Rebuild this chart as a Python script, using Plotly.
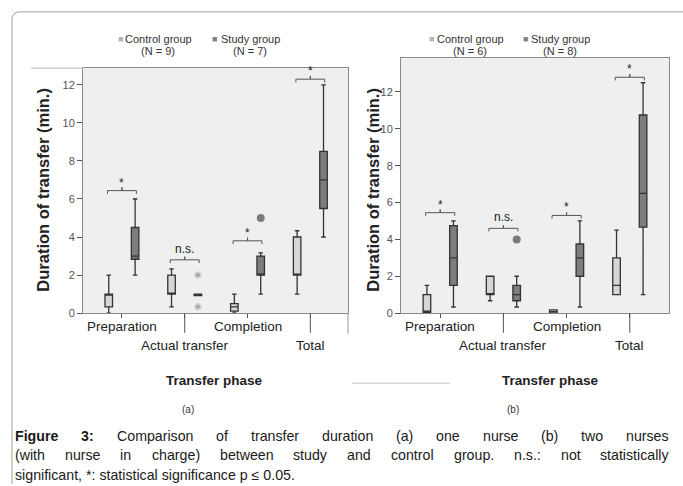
import plotly.graph_objects as go

W, H = 683, 486

categories = ["Preparation", "Actual transfer", "Completion", "Total"]
label_row = [0, 1, 0, 1]          # staggered label rows
groups = ["Control group", "Study group"]

# ---------- Panel (a): one nurse ----------
a_n = [9, 7]
a_ctrl_min = [0.0, 0.33, 0.0, 1.0]
a_ctrl_q1 = [0.33, 1.0, 0.1, 2.0]
a_ctrl_med = [1.0, 1.0, 0.33, 2.0]
a_ctrl_q3 = [1.0, 2.0, 0.5, 4.0]
a_ctrl_max = [2.0, 2.33, 1.0, 4.33]
a_study_min = [2.0, 0.92, 1.0, 4.0]
a_study_q1 = [2.83, 0.92, 2.0, 5.5]
a_study_med = [3.0, 1.0, 2.0, 7.0]
a_study_q3 = [4.5, 1.0, 3.0, 8.5]
a_study_max = [6.0, 1.0, 3.17, 12.0]
a_extreme_cat = [1, 1]
a_extreme_val = [2.0, 0.33]
a_outlier_cat = [2]
a_outlier_val = [5.0]
a_sig_y = [6.44, 2.8, 3.8, 12.3]
a_sig_label = ["*", "n.s.", "*", "*"]

# ---------- Panel (b): two nurses ----------
b_n = [6, 8]
b_ctrl_min = [0.0, 0.67, 0.0, 1.0]
b_ctrl_q1 = [0.02, 1.0, 0.0, 1.0]
b_ctrl_med = [0.1, 1.0, 0.08, 1.5]
b_ctrl_q3 = [1.0, 2.0, 0.17, 3.0]
b_ctrl_max = [1.5, 2.0, 0.17, 4.5]
b_study_min = [0.33, 0.33, 0.33, 1.0]
b_study_q1 = [1.5, 0.67, 2.0, 4.67]
b_study_med = [3.0, 1.0, 3.0, 6.5]
b_study_q3 = [4.75, 1.5, 3.75, 10.75]
b_study_max = [5.0, 2.0, 5.0, 12.5]
b_extreme_cat = []
b_extreme_val = []
b_outlier_cat = [1]
b_outlier_val = [4.0]
b_sig_y = [5.45, 4.6, 5.3, 12.8]
b_sig_label = ["*", "n.s.", "*", "*"]

y_ticks = [0, 2, 4, 6, 8, 10, 12]

caption_lines = [
    ["<b>Figure</b>", "<b>3:</b>", "Comparison", "of", "transfer", "duration", "(a)", "one",
     "nurse", "(b)", "two", "nurses"],
    ["(with", "nurse", "in", "charge)", "between", "study", "and", "control", "group.",
     "n.s.:", "not", "statistically"],
]
caption_last = "significant, *: statistical significance p \u2264 0.05."

CTRL_FILL = "#d6d6d6"
STUDY_FILL = "#7d7d7d"
FONT = "Liberation Sans, Arial, sans-serif"
OFF = 0.21


def px(x):
    return x / W


def py(y):
    return 1 - y / H


def ann(**kw):
    kw.setdefault("xanchor", "center")
    kw.setdefault("yanchor", "middle")
    kw.setdefault("showarrow", False)
    return kw


fig = go.Figure()

panels = [
    dict(xa="x", ya="y", xdom=(83, 348), ydom=(317, 69), yr=12.88,
         ctrl=(a_ctrl_min, a_ctrl_q1, a_ctrl_med, a_ctrl_q3, a_ctrl_max),
         study=(a_study_min, a_study_q1, a_study_med, a_study_q3, a_study_max),
         ext=(a_extreme_cat, a_extreme_val), out=(a_outlier_cat, a_outlier_val),
         sig=(a_sig_y, a_sig_label), n=a_n, letter="(a)",
         ytitle_x=43, leg=(120, 158, 214, 250), xr=(-0.62, 3.6),
         tp_x=214, let_x=188),
    dict(xa="x2", ya="y2", xdom=(401, 669), ydom=(317, 59), yr=13.83,
         ctrl=(b_ctrl_min, b_ctrl_q1, b_ctrl_med, b_ctrl_q3, b_ctrl_max),
         study=(b_study_min, b_study_q1, b_study_med, b_study_q3, b_study_max),
         ext=(b_extreme_cat, b_extreme_val), out=(b_outlier_cat, b_outlier_val),
         sig=(b_sig_y, b_sig_label), n=b_n, letter="(b)",
         ytitle_x=373, leg=(431, 470, 525, 560), xr=(-0.62, 3.62),
         tp_x=550, let_x=513),
]

annotations = []
shapes = []

for p in panels:
    xs = list(range(len(categories)))
    for stats, off, fill in [(p["ctrl"], -OFF, CTRL_FILL), (p["study"], OFF, STUDY_FILL)]:
        mn, q1, med, q3, mx = stats
        fig.add_trace(go.Box(
            x=[i + off for i in xs], q1=q1, median=med, q3=q3,
            lowerfence=mn, upperfence=mx, width=0.12, whiskerwidth=0.6,
            fillcolor=fill, line=dict(color="#333333", width=1.3),
            boxpoints=False, xaxis=p["xa"], yaxis=p["ya"], showlegend=False,
            hoverinfo="skip"))
    ec, ev = p["ext"]
    if ec:
        fig.add_trace(go.Scatter(
            x=[c + OFF for c in ec], y=ev, mode="markers",
            marker=dict(symbol="asterisk-open", size=6, color="#9a9a9a",
                        line=dict(color="#9a9a9a", width=1)),
            xaxis=p["xa"], yaxis=p["ya"], showlegend=False, hoverinfo="skip"))
    oc, ov = p["out"]
    if oc:
        fig.add_trace(go.Scatter(
            x=[c + OFF for c in oc], y=ov, mode="markers",
            marker=dict(symbol="circle", size=8, color="#7a7a7a"),
            xaxis=p["xa"], yaxis=p["ya"], showlegend=False, hoverinfo="skip"))
    # significance brackets
    sy, sl = p["sig"]
    d = 0.17
    bx, by = [], []
    for i, (yv, lab) in enumerate(zip(sy, sl)):
        x0, x1 = i - OFF - 0.02, i + OFF + 0.02
        bx += [x0, x0, i, i, i, x1, x1, None]
        by += [yv - d, yv, yv, yv + d, yv, yv, yv - d, None]
        annotations.append(ann(
            x=i, y=yv, xref=p["xa"], yref=p["ya"], text=lab,
            yanchor="bottom", yshift=2 if lab != "*" else -1,
            font=dict(size=12, color="#222", family=FONT)))
    fig.add_trace(go.Scatter(
        x=bx, y=by, mode="lines", line=dict(color="#555", width=1),
        xaxis=p["xa"], yaxis=p["ya"], showlegend=False, hoverinfo="skip"))

    # category labels (staggered)
    for i, (cat, row) in enumerate(zip(categories, label_row)):
        annotations.append(ann(
            x=i, y=py(331 + 19 * row), xref=p["xa"], yref="paper", text=cat,
            font=dict(size=13.5, color="#222", family=FONT)))
        if row == 1:
            shapes.append(dict(type="line", xref=p["xa"], yref="paper",
                               x0=i, x1=i, y0=py(317), y1=py(337),
                               line=dict(color="#555", width=1)))
    annotations.append(ann(
        x=px(p["tp_x"]), y=py(385), xref="paper", yref="paper",
        text="<b>Transfer phase</b>",
        font=dict(size=13.5, color="#222", family=FONT)))
    annotations.append(ann(
        x=px(p["let_x"]), y=py(415), xref="paper", yref="paper", text=p["letter"],
        font=dict(size=10, color="#333", family=FONT)))
    # y title
    annotations.append(ann(
        x=px(p["ytitle_x"]), y=py(192), xref="paper", yref="paper",
        text="<b>Duration of transfer (min.)</b>", textangle=-90,
        font=dict(size=16.5, color="#222", family=FONT)))
    # legend
    sq1, t1, sq2, t2 = p["leg"]
    for sqx, tx, g, n, col in [(sq1, t1, groups[0], p["n"][0], "#b5b5b5"),
                               (sq2, t2, groups[1], p["n"][1], "#808080")]:
        annotations.append(ann(
            x=px(sqx), y=py(39), xref="paper", yref="paper", text="\u25a0",
            font=dict(size=9, color=col, family=FONT)))
        annotations.append(ann(
            x=px(tx), y=py(39), xref="paper", yref="paper", text=g,
            font=dict(size=11, color="#333", family=FONT)))
        annotations.append(ann(
            x=px(tx), y=py(52), xref="paper", yref="paper", text=f"(N = {n})",
            font=dict(size=11, color="#333", family=FONT)))

# axes
axis_common = dict(showline=True, mirror=True, linecolor="#8a8a8a", linewidth=1,
                   showgrid=False, zeroline=False)
layout_axes = {}
for k, p in enumerate(panels):
    sfx = "" if k == 0 else "2"
    layout_axes["xaxis" + sfx] = dict(
        domain=[px(p["xdom"][0]), px(p["xdom"][1])], range=list(p["xr"]),
        tickvals=list(range(len(categories))), ticks="outside", ticklen=4,
        tickcolor="#555", showticklabels=False, anchor="y" + sfx, **axis_common)
    layout_axes["yaxis" + sfx] = dict(
        domain=[py(p["ydom"][0]), py(p["ydom"][1])], range=[0, p["yr"]],
        tickvals=y_ticks, ticks="outside", ticklen=5, tickcolor="#555",
        tickfont=dict(size=11, color="#555", family=FONT), anchor="x" + sfx,
        **axis_common)

# frame decorations
shapes.append(dict(type="line", xref="paper", yref="paper", x0=px(348), x1=px(348),
                   y0=py(317), y1=py(338), line=dict(color="#999", width=1)))
shapes.append(dict(type="line", xref="paper", yref="paper", x0=px(31), x1=px(83),
                   y0=py(69), y1=py(69), line=dict(color="#bbb", width=1)))
shapes.append(dict(type="line", xref="paper", yref="paper", x0=px(352), x1=px(450),
                   y0=py(388), y1=py(388), line=dict(color="#c8c8c8", width=1)))
shapes.append(dict(type="path", xref="paper", yref="paper",
                   path=f"M {px(12)},{py(490)} L {px(12)},{py(20)} Q {px(12)},{py(12)} {px(20)},{py(12)} L {px(690)},{py(12)}",
                   line=dict(color="#a0a0a0", width=1)))

# caption (justified lines), Arial-compatible metrics
REG = {' ': 278, '(': 333, ')': 333, '*': 389, ',': 278, '.': 278, ':': 278,
       'a': 556, 'b': 556, 'c': 500, 'd': 556, 'e': 556, 'f': 278, 'g': 556,
       'h': 556, 'i': 222, 'j': 222, 'k': 500, 'l': 222, 'm': 833, 'n': 556,
       'o': 556, 'p': 556, 'q': 556, 'r': 333, 's': 500, 't': 278, 'u': 556,
       'v': 500, 'w': 722, 'x': 500, 'y': 500, 'z': 500, 'C': 722}
BOLD = {'F': 611, 'i': 278, 'g': 611, 'u': 611, 'r': 389, 'e': 556, '3': 556, ':': 333}
CAP_FS = 14.2
CAP_L, CAP_R = 14, 668


def word_w(wd):
    if wd.startswith("<b>"):
        t = wd[3:-4]
        return sum(BOLD.get(c, 600) for c in t) * CAP_FS / 1000
    return sum(REG.get(c, 556) for c in wd) * CAP_FS / 1000


cap_y = [441, 461]
for line, yy in zip(caption_lines, cap_y):
    widths = [word_w(w_) for w_ in line]
    gap = (CAP_R - CAP_L - sum(widths)) / (len(line) - 1)
    xcur = CAP_L
    for w_, ww in zip(line, widths):
        annotations.append(ann(
            x=px(xcur), y=py(yy), xref="paper", yref="paper", text=w_,
            xanchor="left", borderpad=0,
            font=dict(size=CAP_FS, color="#1a1a1a", family=FONT)))
        xcur += ww + gap
annotations.append(ann(
    x=px(CAP_L), y=py(480.5), xref="paper", yref="paper", text=caption_last,
    xanchor="left", borderpad=0,
    font=dict(size=CAP_FS, color="#1a1a1a", family=FONT)))

fig.update_layout(
    width=W, height=H, margin=dict(l=0, r=0, t=0, b=0),
    paper_bgcolor="white", plot_bgcolor="#efefef",
    boxmode="overlay", showlegend=False,
    annotations=annotations, shapes=shapes,
    font=dict(family=FONT, color="#333"),
    **layout_axes)

fig.write_html("out.html")
